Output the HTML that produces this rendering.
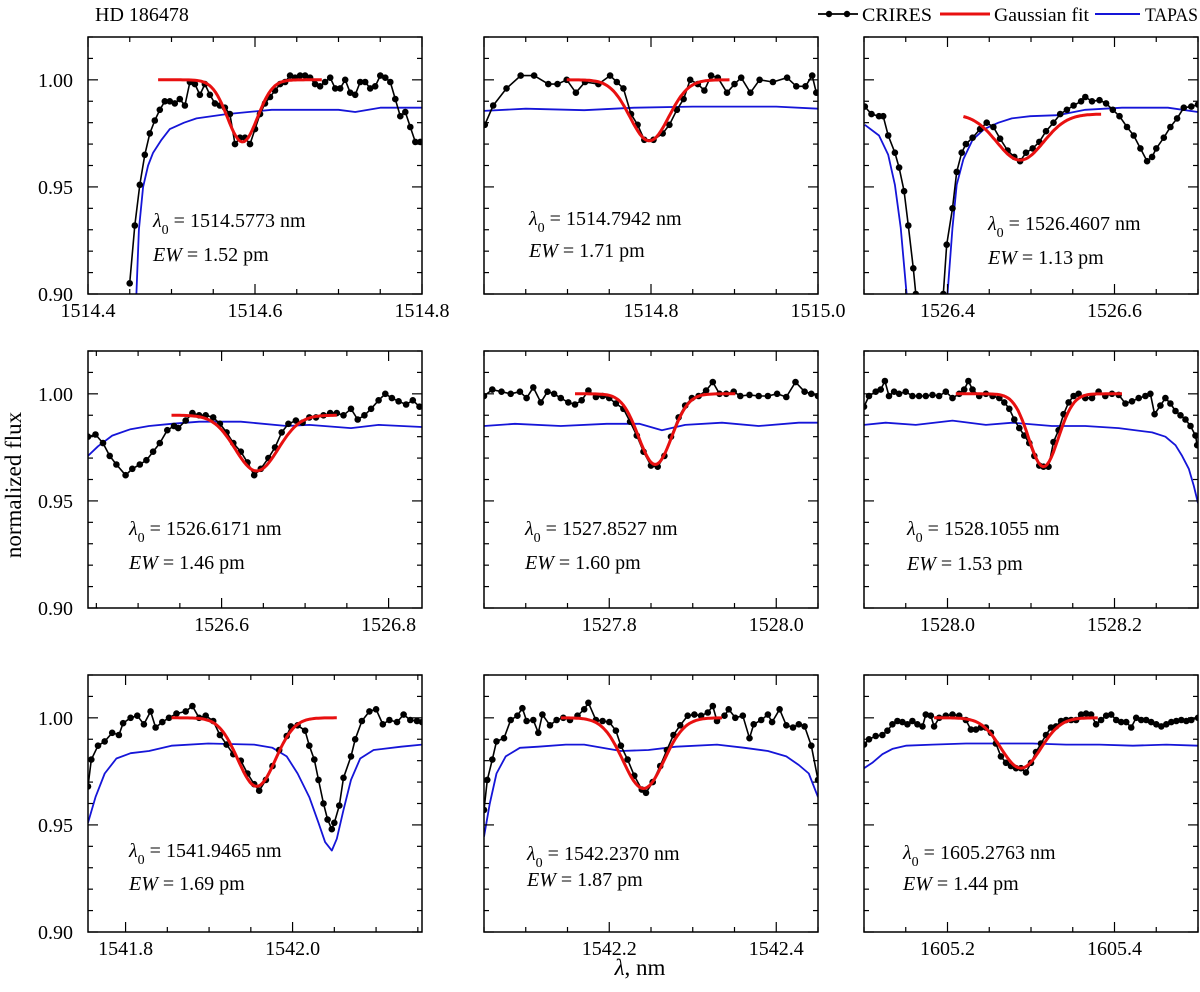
<!DOCTYPE html>
<html><head><meta charset="utf-8"><title>HD 186478 spectra</title>
<style>
html,body{margin:0;padding:0;background:#fff;}
svg{display:block;font-family:"Liberation Serif","DejaVu Serif",serif;}
</style></head>
<body>
<svg id="chart" width="1200" height="992" viewBox="0 0 1200 992" xmlns="http://www.w3.org/2000/svg">
<text x="95" y="21" font-size="20">HD 186478</text>
<g>
  <g>
    <line x1="818" y1="14" x2="858" y2="14" stroke="#000" stroke-width="1.8"/>
    <circle cx="829" cy="14" r="3.2" fill="#000"/><circle cx="847" cy="14" r="3.2" fill="#000"/>
    <text x="862" y="21" font-size="19" textLength="70" lengthAdjust="spacingAndGlyphs">CRIRES</text>
  </g>
  <g>
    <line x1="940" y1="14" x2="990" y2="14" stroke="#e81010" stroke-width="3"/>
    <text x="994" y="21" font-size="19" textLength="95" lengthAdjust="spacingAndGlyphs">Gaussian fit</text>
  </g>
  <g>
    <line x1="1095" y1="14" x2="1140" y2="14" stroke="#1515d8" stroke-width="2"/>
    <text x="1145" y="21" font-size="19" textLength="53" lengthAdjust="spacingAndGlyphs">TAPAS</text>
  </g>
</g>
<text transform="translate(21,485) rotate(-90)" text-anchor="middle" font-size="23">normalized flux</text>
<text x="640" y="975" text-anchor="middle" font-size="23"><tspan font-style="italic">λ</tspan>, nm</text>
</svg>
<script>
// ---------- data ----------
const p1Wl=[1514.450,1514.456,1514.462,1514.468,1514.474,1514.480,1514.486,1514.492,1514.498,1514.504,1514.510,1514.516,1514.522,1514.528,1514.534,1514.540,1514.546,1514.552,1514.558,1514.564,1514.570,1514.576,1514.582,1514.588,1514.594,1514.600,1514.606,1514.612,1514.618,1514.624,1514.630,1514.636,1514.642,1514.648,1514.654,1514.660,1514.666,1514.672,1514.678,1514.684,1514.690,1514.696,1514.702,1514.708,1514.714,1514.720,1514.726,1514.732,1514.738,1514.744,1514.750,1514.756,1514.762,1514.768,1514.774,1514.780,1514.786,1514.792,1514.798];
const p1Flux=[0.905,0.932,0.951,0.965,0.975,0.981,0.986,0.990,0.990,0.989,0.991,0.988,0.999,0.998,0.993,0.998,0.993,0.989,0.988,0.987,0.984,0.970,0.973,0.973,0.970,0.977,0.984,0.989,0.992,0.995,0.998,0.999,1.002,1.001,1.002,1.002,1.001,0.998,0.997,0.999,1.001,0.996,0.996,1.000,0.994,0.993,0.999,0.999,0.996,0.997,1.002,1.001,0.999,0.991,0.983,0.985,0.978,0.971,0.971];
const p1TapasWl=[1514.455,1514.458,1514.461,1514.466,1514.472,1514.478,1514.488,1514.498,1514.515,1514.530,1514.566,1514.620,1514.700,1514.720,1514.750,1514.800];
const p1Tapas=[0.880,0.900,0.930,0.950,0.960,0.966,0.972,0.977,0.980,0.982,0.984,0.986,0.986,0.985,0.987,0.987];

const p2Wl=[1514.601,1514.611,1514.627,1514.644,1514.660,1514.677,1514.688,1514.699,1514.710,1514.721,1514.737,1514.751,1514.759,1514.767,1514.776,1514.784,1514.792,1514.803,1514.814,1514.822,1514.831,1514.839,1514.847,1514.856,1514.864,1514.872,1514.880,1514.891,1514.900,1514.908,1514.919,1514.930,1514.946,1514.963,1514.974,1514.985,1514.993,1514.998];
const p2Flux=[0.979,0.988,0.996,1.002,1.002,0.998,0.998,1.000,0.994,0.999,0.998,1.002,0.999,0.996,0.984,0.979,0.972,0.972,0.975,0.979,0.986,0.991,1.000,0.998,0.995,1.002,1.001,0.994,0.998,1.001,0.994,1.000,0.999,1.001,0.997,0.997,1.002,0.994];
const p2TapasWl=[1514.600,1514.650,1514.720,1514.780,1514.850,1514.950,1515.000];
const p2Tapas=[0.9855,0.9865,0.9858,0.9870,0.9875,0.9875,0.9865];

const p3Wl=[1526.301,1526.309,1526.318,1526.323,1526.329,1526.337,1526.342,1526.348,1526.353,1526.359,1526.362,1526.370,1526.385,1526.395,1526.399,1526.406,1526.411,1526.417,1526.422,1526.430,1526.439,1526.447,1526.455,1526.463,1526.472,1526.480,1526.487,1526.494,1526.502,1526.510,1526.518,1526.527,1526.535,1526.543,1526.551,1526.560,1526.565,1526.573,1526.582,1526.590,1526.598,1526.606,1526.615,1526.623,1526.631,1526.639,1526.645,1526.650,1526.659,1526.667,1526.675,1526.683,1526.692,1526.700];
const p3Flux=[0.9875,0.984,0.983,0.983,0.974,0.966,0.959,0.948,0.932,0.912,0.900,0.850,0.850,0.900,0.923,0.940,0.957,0.966,0.970,0.973,0.977,0.980,0.978,0.9725,0.967,0.964,0.962,0.966,0.968,0.971,0.976,0.980,0.984,0.986,0.988,0.990,0.992,0.990,0.9905,0.989,0.986,0.983,0.978,0.974,0.968,0.962,0.964,0.968,0.973,0.978,0.982,0.987,0.9875,0.9885];
const p3TapasWl=[1526.301,1526.318,1526.329,1526.337,1526.344,1526.351,1526.360,1526.390,1526.400,1526.406,1526.411,1526.419,1526.430,1526.444,1526.461,1526.477,1526.499,1526.532,1526.565,1526.609,1526.664,1526.700];
const p3Tapas=[0.979,0.974,0.965,0.951,0.931,0.900,0.850,0.850,0.900,0.931,0.951,0.963,0.972,0.977,0.980,0.982,0.983,0.9835,0.986,0.987,0.987,0.985];

const p4Wl=[1526.440,1526.449,1526.458,1526.466,1526.474,1526.485,1526.493,1526.502,1526.510,1526.518,1526.526,1526.535,1526.543,1526.548,1526.557,1526.565,1526.573,1526.581,1526.590,1526.598,1526.606,1526.614,1526.623,1526.631,1526.639,1526.647,1526.656,1526.664,1526.672,1526.680,1526.689,1526.697,1526.705,1526.713,1526.722,1526.730,1526.738,1526.746,1526.755,1526.763,1526.771,1526.779,1526.788,1526.796,1526.804,1526.812,1526.821,1526.829,1526.837];
const p4Flux=[0.980,0.981,0.977,0.971,0.967,0.962,0.965,0.967,0.969,0.973,0.977,0.983,0.985,0.984,0.9875,0.991,0.990,0.990,0.989,0.986,0.982,0.977,0.973,0.968,0.962,0.965,0.970,0.975,0.982,0.986,0.9875,0.9865,0.989,0.989,0.990,0.991,0.991,0.990,0.993,0.988,0.990,0.993,0.997,1.000,0.998,0.9965,0.995,0.997,0.994];
const p4TapasWl=[1526.440,1526.452,1526.469,1526.491,1526.513,1526.540,1526.573,1526.623,1526.678,1526.705,1526.755,1526.788,1526.840];
const p4Tapas=[0.971,0.9755,0.9805,0.9835,0.985,0.986,0.987,0.987,0.985,0.9855,0.984,0.9855,0.9845];

const p5Wl=[1527.650,1527.660,1527.671,1527.682,1527.693,1527.701,1527.709,1527.718,1527.726,1527.734,1527.742,1527.751,1527.759,1527.767,1527.775,1527.784,1527.792,1527.800,1527.808,1527.817,1527.825,1527.833,1527.841,1527.850,1527.858,1527.866,1527.874,1527.883,1527.891,1527.899,1527.907,1527.916,1527.924,1527.932,1527.940,1527.949,1527.957,1527.968,1527.979,1527.990,1528.001,1528.012,1528.023,1528.034,1528.042,1528.050];
const p5Flux=[0.999,1.002,1.001,1.000,1.001,0.998,1.003,0.996,1.001,1.000,0.998,0.996,0.995,0.997,1.0015,0.9985,0.999,0.998,0.9955,0.993,0.987,0.9805,0.973,0.9665,0.966,0.971,0.980,0.989,0.9945,0.998,0.999,1.0015,1.0055,1.000,1.000,1.001,0.999,0.9995,0.999,0.999,1.000,0.9985,1.0055,1.001,1.000,0.999];
const p5TapasWl=[1527.650,1527.687,1527.742,1527.797,1527.836,1527.863,1527.891,1527.935,1527.979,1528.027,1528.050];
const p5Tapas=[0.985,0.986,0.985,0.986,0.986,0.983,0.9855,0.9865,0.985,0.9865,0.9865];

const p6Wl=[1527.900,1527.906,1527.914,1527.920,1527.925,1527.930,1527.936,1527.942,1527.950,1527.958,1527.966,1527.974,1527.982,1527.990,1527.998,1528.006,1528.014,1528.020,1528.025,1528.030,1528.038,1528.046,1528.054,1528.062,1528.068,1528.074,1528.080,1528.086,1528.092,1528.098,1528.104,1528.110,1528.115,1528.121,1528.127,1528.133,1528.139,1528.145,1528.151,1528.157,1528.165,1528.173,1528.181,1528.189,1528.197,1528.205,1528.213,1528.221,1528.229,1528.237,1528.243,1528.248,1528.255,1528.261,1528.267,1528.273,1528.279,1528.285,1528.291,1528.297,1528.299];
const p6Flux=[0.994,0.999,1.001,1.002,1.006,0.999,1.001,1.000,1.001,0.999,0.999,0.999,0.9995,0.999,1.001,0.998,1.000,1.002,1.006,1.002,0.999,1.000,0.999,0.998,0.996,0.993,0.988,0.984,0.9805,0.977,0.971,0.9665,0.966,0.966,0.9775,0.983,0.9905,0.996,0.999,1.000,0.998,0.998,1.001,0.999,1.000,0.9995,0.9955,0.9965,0.998,0.999,1.000,0.9905,0.9945,0.998,0.9955,0.992,0.990,0.988,0.985,0.9805,0.976];
const p6TapasWl=[1527.900,1527.926,1527.962,1528.006,1528.046,1528.078,1528.125,1528.165,1528.205,1528.245,1528.261,1528.273,1528.281,1528.289,1528.295,1528.300];
const p6Tapas=[0.9855,0.9865,0.9855,0.9875,0.9855,0.9865,0.985,0.985,0.984,0.982,0.980,0.976,0.971,0.965,0.957,0.949];

const p7Wl=[1541.755,1541.759,1541.767,1541.775,1541.784,1541.792,1541.797,1541.806,1541.814,1541.822,1541.830,1541.836,1541.844,1541.852,1541.861,1541.872,1541.880,1541.888,1541.896,1541.905,1541.913,1541.921,1541.929,1541.938,1541.946,1541.954,1541.960,1541.968,1541.976,1541.984,1541.993,1541.998,1542.006,1542.015,1542.020,1542.026,1542.031,1542.037,1542.042,1542.047,1542.050,1542.056,1542.061,1542.070,1542.075,1542.083,1542.092,1542.100,1542.108,1542.116,1542.125,1542.133,1542.141,1542.149,1542.155];
const p7Flux=[0.968,0.9805,0.987,0.989,0.993,0.992,0.9975,1.000,1.001,0.997,1.003,0.9955,0.998,1.000,1.002,1.003,1.0055,1.000,1.001,0.9985,0.992,0.9875,0.983,0.980,0.974,0.969,0.966,0.971,0.9775,0.985,0.9915,0.996,0.9965,0.994,0.987,0.9805,0.971,0.960,0.9525,0.948,0.951,0.959,0.972,0.982,0.990,0.9985,1.003,1.004,0.997,0.999,0.998,1.0015,0.999,0.9985,0.998];
const p7TapasWl=[1541.755,1541.764,1541.775,1541.789,1541.806,1541.828,1541.855,1541.899,1541.954,1541.976,1541.993,1542.006,1542.020,1542.031,1542.039,1542.047,1542.053,1542.061,1542.070,1542.081,1542.097,1542.130,1542.155];
const p7Tapas=[0.951,0.963,0.974,0.981,0.9835,0.9845,0.987,0.988,0.9875,0.986,0.982,0.974,0.963,0.951,0.942,0.938,0.9435,0.957,0.971,0.981,0.985,0.9865,0.9875];

const p8Wl=[1542.050,1542.054,1542.060,1542.065,1542.074,1542.082,1542.090,1542.096,1542.101,1542.109,1542.115,1542.120,1542.129,1542.137,1542.145,1542.153,1542.162,1542.170,1542.175,1542.184,1542.192,1542.200,1542.208,1542.214,1542.222,1542.230,1542.239,1542.244,1542.252,1542.261,1542.269,1542.277,1542.285,1542.294,1542.302,1542.310,1542.318,1542.324,1542.329,1542.338,1542.343,1542.351,1542.360,1542.368,1542.373,1542.382,1542.390,1542.395,1542.404,1542.412,1542.420,1542.427,1542.434,1542.442,1542.450];
const p8Flux=[0.957,0.971,0.9805,0.989,0.9905,0.999,1.001,1.0045,0.9985,0.999,0.993,1.0015,0.9965,0.999,1.000,0.999,1.001,1.004,1.007,0.999,0.9985,0.998,0.994,0.987,0.9805,0.973,0.9665,0.965,0.970,0.9775,0.985,0.992,0.9965,1.001,1.0015,1.001,1.0025,1.0055,0.9985,1.001,1.004,1.000,1.001,0.9905,0.997,0.999,1.0015,0.998,1.004,0.9965,0.9955,0.997,0.996,0.987,0.971];
const p8TapasWl=[1542.050,1542.057,1542.065,1542.076,1542.093,1542.115,1542.148,1542.170,1542.214,1542.247,1542.280,1542.329,1542.362,1542.390,1542.412,1542.427,1542.439,1542.450];
const p8Tapas=[0.9445,0.960,0.974,0.982,0.986,0.9865,0.9875,0.9875,0.9845,0.985,0.9865,0.9875,0.986,0.9845,0.982,0.978,0.974,0.963];

const p9Wl=[1605.100,1605.106,1605.114,1605.122,1605.128,1605.134,1605.140,1605.146,1605.152,1605.158,1605.164,1605.170,1605.174,1605.180,1605.184,1605.190,1605.198,1605.206,1605.214,1605.222,1605.228,1605.234,1605.240,1605.246,1605.252,1605.258,1605.264,1605.270,1605.276,1605.282,1605.288,1605.294,1605.300,1605.306,1605.312,1605.318,1605.324,1605.330,1605.336,1605.342,1605.348,1605.354,1605.360,1605.366,1605.372,1605.378,1605.384,1605.390,1605.396,1605.402,1605.408,1605.414,1605.420,1605.426,1605.432,1605.438,1605.444,1605.450,1605.456,1605.462,1605.468,1605.474,1605.480,1605.486,1605.492,1605.500];
const p9Flux=[0.9875,0.990,0.9915,0.992,0.994,0.997,0.9985,0.998,0.997,0.9985,0.997,0.996,1.0015,1.001,0.996,1.000,1.001,1.0015,1.001,0.999,0.9945,0.9945,0.9955,0.9955,0.993,0.988,0.982,0.979,0.9775,0.9765,0.9765,0.9745,0.979,0.984,0.988,0.992,0.9955,0.996,0.9985,0.999,0.999,0.999,1.0015,1.002,1.0015,0.997,0.999,1.001,1.0015,0.999,0.998,0.998,0.9955,1.000,0.999,0.999,0.998,0.997,0.996,0.997,0.998,0.9985,0.999,0.9985,0.999,1.000];
const p9TapasWl=[1605.100,1605.110,1605.122,1605.134,1605.150,1605.182,1605.222,1605.262,1605.302,1605.342,1605.382,1605.422,1605.462,1605.500];
const p9Tapas=[0.9765,0.979,0.983,0.9855,0.987,0.9875,0.988,0.988,0.988,0.9875,0.9875,0.987,0.9875,0.987];

// Gaussian fit parameters per panel
const fitCenter=[1514.585,1514.798,1526.487,1526.642,1527.855,1528.115,1541.957,1542.241,1605.288];
const fitDepth=[0.029,0.0285,0.0215,0.026,0.033,0.034,0.032,0.033,0.0235];
const fitCont=[1.000,1.000,0.984,0.990,1.000,1.000,1.000,1.000,1.000];
const fitSigma=[0.018,0.0233,0.028,0.0257,0.0199,0.0178,0.0226,0.0245,0.0238];
const fitStart=[1514.484,1514.699,1526.419,1526.540,1527.759,1528.010,1541.855,1542.142,1605.184];
const fitEnd=[1514.680,1514.894,1526.584,1526.738,1527.951,1528.209,1542.053,1542.335,1605.380];

// Axis ranges and labels per panel
const xMins=[1514.4,1514.6,1526.3,1526.44,1527.65,1527.9,1541.755,1542.05,1605.1];
const xMaxs=[1514.8,1515.0,1526.7,1526.84,1528.05,1528.3,1542.155,1542.45,1605.5];
const xTickLabels=[["1514.4","1514.6","1514.8"],["1514.8","1515.0"],["1526.4","1526.6"],["1526.6","1526.8"],["1527.8","1528.0"],["1528.0","1528.2"],["1541.8","1542.0"],["1542.2","1542.4"],["1605.2","1605.4"]];
const yTickLabels=["0.90","0.95","1.00"];
const lambdaLabels=["1514.5773","1514.7942","1526.4607","1526.6171","1527.8527","1528.1055","1541.9465","1542.2370","1605.2763"];
const ewLabels=["1.52","1.71","1.13","1.46","1.60","1.53","1.69","1.87","1.44"];

// ---------- layout ----------
const fluxSets=[[p1Wl,p1Flux,p1TapasWl,p1Tapas],[p2Wl,p2Flux,p2TapasWl,p2Tapas],[p3Wl,p3Flux,p3TapasWl,p3Tapas],[p4Wl,p4Flux,p4TapasWl,p4Tapas],[p5Wl,p5Flux,p5TapasWl,p5Tapas],[p6Wl,p6Flux,p6TapasWl,p6Tapas],[p7Wl,p7Flux,p7TapasWl,p7Tapas],[p8Wl,p8Flux,p8TapasWl,p8Tapas],[p9Wl,p9Flux,p9TapasWl,p9Tapas]];
const colX=[88,484,864], rowY=[37,351,675], PW=334, PH=257;
const annotDx=[65,45,124,41,41,43,41,43,39];
const annotDy=[183,181,186,177,177,177,175,178,177];
const ewDy=[217,213,220,211,211,212,208,204,208];
const YMIN=0.90, YMAX=1.02;
const NS="http://www.w3.org/2000/svg";
const svg=document.getElementById('chart');
function mk(tag,attrs,parent){const e=document.createElementNS(NS,tag);for(const k in attrs)e.setAttribute(k,attrs[k]);(parent||svg).appendChild(e);return e;}

for(let p=0;p<9;p++){
  const x0=colX[p%3], y0=rowY[Math.floor(p/3)];
  const xmin=xMins[p], xmax=xMaxs[p];
  const sx=v=>x0+(v-xmin)/(xmax-xmin)*PW;
  const sy=v=>y0+(YMAX-v)/(YMAX-YMIN)*PH;
  const g=mk('g',{});
  
  
  const cp=mk('clipPath',{id:'clip'+p},g);
  mk('rect',{x:x0,y:y0,width:PW,height:PH},cp);
  const data=mk('g',{'clip-path':'url(#clip'+p+')'},g);
  const [wl,fl,tw,tf]=fluxSets[p];
  const tp=mk('polyline',{points:tw.map((w,i)=>sx(w).toFixed(1)+','+sy(tf[i]).toFixed(1)).join(' '),fill:'none',stroke:'#1515d8','stroke-width':1.8,'stroke-linejoin':'round'},data);
  
  
  const cl=mk('polyline',{points:wl.map((w,i)=>sx(w).toFixed(1)+','+sy(fl[i]).toFixed(1)).join(' '),fill:'none',stroke:'#000','stroke-width':1.6,'stroke-linejoin':'round'},data);
  
  
  wl.forEach((w,i)=>{
    const c=mk('circle',{cx:sx(w).toFixed(1),cy:sy(fl[i]).toFixed(1),r:3.3,fill:'#000'},data);
    
    
  });
  const pts=[];
  for(let k=0;k<=80;k++){
    const w=fitStart[p]+(fitEnd[p]-fitStart[p])*k/80;
    const v=fitCont[p]-fitDepth[p]*Math.exp(-0.5*Math.pow((w-fitCenter[p])/fitSigma[p],2));
    pts.push(sx(w).toFixed(1)+','+sy(v).toFixed(1));
  }
  const gf=mk('polyline',{points:pts.join(' '),fill:'none',stroke:'#e81010','stroke-width':3,'stroke-linejoin':'round'},data);
  
  
  const fr=mk('rect',{x:x0,y:y0,width:PW,height:PH,fill:'none',stroke:'#000','stroke-width':1.5},g);
  
  
  const k0=Math.ceil(xmin/0.05-1e-6), k1=Math.floor(xmax/0.05+1e-6);
  for(let k=k0;k<=k1;k++){
    const X=sx(k*0.05); const major=(k%4===0); const L=major?10:5;
    mk('line',{x1:X,y1:y0+PH,x2:X,y2:y0+PH-L,stroke:'#000','stroke-width':1.2},g);
    mk('line',{x1:X,y1:y0,x2:X,y2:y0+L,stroke:'#000','stroke-width':1.2},g);
  }
  xTickLabels[p].forEach(t=>{
    const tl=mk('text',{x:sx(parseFloat(t)),y:y0+PH+23,'text-anchor':'middle','font-size':20},g);
    tl.textContent=t;
    
    
  });
  for(let k=90;k<=102;k++){
    const Y=sy(k/100); const L=(k%5===0)?10:5;
    mk('line',{x1:x0,y1:Y,x2:x0+L,y2:Y,stroke:'#000','stroke-width':1.2},g);
    mk('line',{x1:x0+PW,y1:Y,x2:x0+PW-L,y2:Y,stroke:'#000','stroke-width':1.2},g);
  }
  if(p%3===0){
    yTickLabels.forEach(t=>{
      const yl=mk('text',{x:x0-15,y:sy(parseFloat(t))+7,'text-anchor':'end','font-size':20},g);
      yl.textContent=t;
      
      
    });
  }
  const a=mk('text',{x:x0+annotDx[p],y:y0+annotDy[p]+7,'font-size':20},g);
  
  
  a.innerHTML='<tspan font-style="italic">λ</tspan><tspan font-size="14" dy="7">0</tspan><tspan dy="-7"> = '+lambdaLabels[p]+' nm</tspan>';
  const e=mk('text',{x:x0+annotDx[p],y:y0+ewDy[p]+7,'font-size':20},g);
  
  
  e.innerHTML='<tspan font-style="italic">EW</tspan> = '+ewLabels[p]+' pm';
}
</script>
</body></html>
